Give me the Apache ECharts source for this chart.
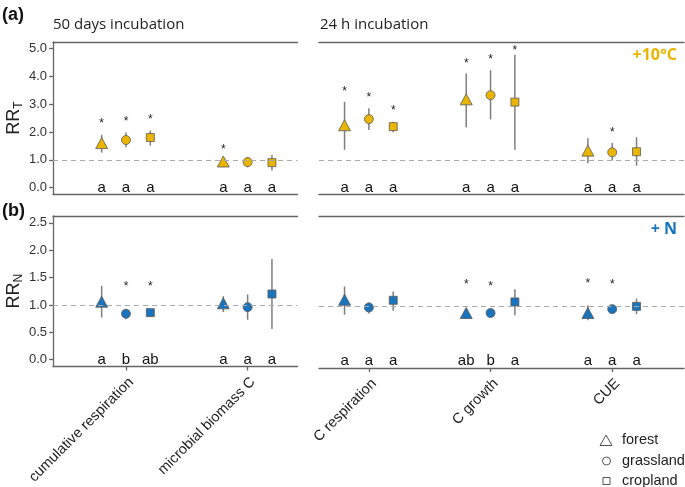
<!DOCTYPE html>
<html><head><meta charset="utf-8">
<script src="https://cdn.jsdelivr.net/npm/echarts@6/dist/echarts.min.js"></script>
<style>html,body{margin:0;padding:0;background:#fff}#c{width:685px;height:487px}</style>
</head><body><div id="c"></div>
<script>
// ---------- data ----------
const categories = ['cumulative respiration', 'microbial biomass C', 'C respiration', 'C growth', 'CUE'];
const landUses = ['forest', 'grassland', 'cropland'];
const yTicksT = [0, 1, 2, 3, 4, 5];
const yTicksN = [0, 0.5, 1, 1.5, 2, 2.5];

// RR_T (+10°C)
const forestT   = [1.60, 0.94, 2.24, 3.17, 1.33];
const forestTLo = [1.26, 0.85, 1.36, 2.17, 0.88];
const forestTHi = [1.90, 1.03, 3.08, 4.10, 1.77];
const grassT    = [1.71, 0.92, 2.46, 3.32, 1.27];
const grassTLo  = [1.45, 0.73, 2.07, 2.45, 0.98];
const grassTHi  = [1.98, 1.10, 2.85, 4.21, 1.60];
const cropT     = [1.80, 0.90, 2.19, 3.07, 1.29];
const cropTLo   = [1.51, 0.62, 1.99, 1.36, 0.79];
const cropTHi   = [2.05, 1.17, 2.37, 4.77, 1.81];
const forestTStar = [2.40, 1.48, 3.56, 4.57, null];
const grassTStar  = [2.49, null, 3.35, 4.69, 2.07];
const cropTStar   = [2.55, null, 2.86, 5.01, null];
const forestTLetter = ['a', 'a', 'a', 'a', 'a'];
const grassTLetter  = ['a', 'a', 'a', 'a', 'a'];
const cropTLetter   = ['a', 'a', 'a', 'a', 'a'];

// RR_N (+ N)
const forestN   = [1.06, 1.03, 1.11, 0.87, 0.87];
const forestNLo = [0.77, 0.87, 0.84, 0.77, 0.74];
const forestNHi = [1.35, 1.16, 1.35, 0.95, 1.01];
const grassN    = [0.84, 0.96, 0.97, 0.87, 0.94];
const grassNLo  = [0.74, 0.73, 0.86, 0.82, 0.86];
const grassNHi  = [0.92, 1.19, 1.06, 0.92, 1.00];
const cropN     = [0.86, 1.20, 1.10, 1.07, 0.99];
const cropNLo   = [0.81, 0.56, 0.91, 0.83, 0.85];
const cropNHi   = [0.91, 1.84, 1.26, 1.30, 1.13];
const forestNStar = [null, null, null, 1.44, 1.46];
const grassNStar  = [1.38, null, null, 1.40, 1.44];
const cropNStar   = [1.38, null, null, null, null];
const forestNLetter = ['a', 'a', 'a', 'ab', 'a'];
const grassNLetter  = ['b', 'a', 'a', 'b', 'a'];
const cropNLetter   = ['ab', 'a', 'a', 'a', 'a'];

// ---------- styling ----------
const gold = '#E9B500', blue = '#1A74BB';
const axisColor = '#666';
const offsets = [-0.2, 0, 0.2];
const symbols = ['triangle', 'circle', 'rect'];
const symbolSizes = [[12, 11], 9, 8];
const sideCats = [[0, 1], [2, 3, 4]];

const panels = [
  { vals: [forestT, grassT, cropT], lo: [forestTLo, grassTLo, cropTLo], hi: [forestTHi, grassTHi, cropTHi],
    stars: [forestTStar, grassTStar, cropTStar], letters: [forestTLetter, grassTLetter, cropTLetter],
    color: gold, min: -0.225, max: 5.225, ticks: yTicksT, name: '{a|RR}{b|T}' },
  { vals: [forestN, grassN, cropN], lo: [forestNLo, grassNLo, cropNLo], hi: [forestNHi, grassNHi, cropNHi],
    stars: [forestNStar, grassNStar, cropNStar], letters: [forestNLetter, grassNLetter, cropNLetter],
    color: blue, min: -0.125, max: 2.625, ticks: yTicksN, name: '{a|RR}{b|N}' }
];

const grids = [
  { left: 53, top: 42, width: 244.5, height: 152 },
  { left: 319, top: 42, width: 365, height: 152 },
  { left: 53, top: 216, width: 244.5, height: 152 },
  { left: 319, top: 216, width: 365, height: 152 }
];

const xAxes = [], yAxes = [], series = [];
for (let g = 0; g < 4; g++) {
  const p = Math.floor(g / 2), s = g % 2;
  const xmin = s === 0 ? 0.4 : 2.59, xmax = s === 0 ? 2.41 : 5.59;
  const tickVals = sideCats[s].map(i => i + 1);
  const isBottom = p === 1;
  xAxes.push({
    type: 'value', gridIndex: g, position: 'bottom', min: xmin, max: xmax,
    splitLine: { show: false },
    axisLine: { show: true, onZero: false, lineStyle: { color: axisColor, width: 1.3 } },
    axisTick: { show: isBottom, customValues: tickVals, length: 4, lineStyle: { color: axisColor, width: 1.3 } },
    axisLabel: { show: isBottom, customValues: tickVals, rotate: 45, margin: 8, verticalAlign: 'top', align: 'right',
      formatter: v => categories[Math.round(v) - 1], fontSize: 14.5, color: '#222', fontFamily: 'Liberation Sans' }
  });
}
for (let g = 0; g < 4; g++) {
  const s = g % 2;
  xAxes.push({
    type: 'value', gridIndex: g, position: 'top', min: s === 0 ? 0.4 : 2.59, max: s === 0 ? 2.41 : 5.59,
    splitLine: { show: false }, axisTick: { show: false }, axisLabel: { show: false },
    axisLine: { show: true, onZero: false, lineStyle: { color: axisColor, width: 1.3 } }
  });
}
for (let g = 0; g < 4; g++) {
  const p = Math.floor(g / 2), s = g % 2;
  const P = panels[p];
  yAxes.push({
    type: 'value', gridIndex: g, min: P.min, max: P.max, show: s === 0,
    splitLine: { show: false },
    axisLine: { show: true, onZero: false, lineStyle: { color: axisColor, width: 1.3 } },
    axisTick: { show: true, customValues: P.ticks, length: 4, lineStyle: { color: axisColor, width: 1.3 } },
    axisLabel: { customValues: P.ticks, formatter: v => v.toFixed(1), fontSize: 13, color: '#333',
      fontFamily: 'Liberation Sans', margin: 6 },
    name: s === 0 ? P.name : '', nameLocation: 'middle', nameRotate: 90, nameGap: 30,
    nameTextStyle: { rich: {
      a: { fontSize: 18, fontFamily: 'Liberation Sans', color: '#222' },
      b: { fontSize: 12, fontFamily: 'Liberation Sans', color: '#222', verticalAlign: 'bottom', padding: [0, 0, -2, 0] } } }
  });
}

for (let g = 0; g < 4; g++) {
  const p = Math.floor(g / 2), s = g % 2;
  const P = panels[p];
  const cats = sideCats[s];
  const errData = [];
  const starData = [], starText = [];
  const letData = [], letText = [];
  for (let j = 0; j < 3; j++) {
    cats.forEach(i => {
      const x = i + 1 + offsets[j];
      errData.push([x, P.lo[j][i], P.hi[j][i]]);
      if (P.stars[j][i] != null) { starData.push([x, P.stars[j][i]]); starText.push('*'); }
      letData.push([x, 0]); letText.push(P.letters[j][i]);
    });
  }
  series.push({
    type: 'custom', xAxisIndex: g, yAxisIndex: g, z: 1, silent: true, data: errData,
    encode: { x: 0, y: [1, 2] },
    renderItem: (params, api) => {
      const a = api.coord([api.value(0), api.value(1)]);
      const b = api.coord([api.value(0), api.value(2)]);
      return { type: 'line', shape: { x1: a[0], y1: a[1], x2: b[0], y2: b[1] },
        style: { stroke: '#7f7f7f', lineWidth: 1.5 } };
    }
  });
  for (let j = 0; j < 3; j++) {
    const ser = {
      type: 'scatter', name: landUses[j], xAxisIndex: g, yAxisIndex: g, z: 3,
      symbol: symbols[j], symbolSize: symbolSizes[j],
      itemStyle: { color: P.color, borderColor: '#5a5a5a', borderWidth: 0.8, opacity: 1 },
      data: cats.map(i => [i + 1 + offsets[j], P.vals[j][i]])
    };
    if (j === 0) {
      ser.markLine = { silent: true, symbol: 'none', label: { show: false }, animation: false,
        lineStyle: { color: '#aaaaaa', type: [5, 4], width: 1.1 }, data: [{ yAxis: 1 }] };
    }
    series.push(ser);
  }
  series.push({
    type: 'custom', xAxisIndex: g, yAxisIndex: g, z: 4, silent: true, data: starData,
    renderItem: (params, api) => {
      const c = api.coord([api.value(0), api.value(1)]);
      return { type: 'text', x: c[0], y: c[1] + 3,
        style: { text: starText[params.dataIndex], align: 'center', verticalAlign: 'middle',
          textAlign: 'center', textVerticalAlign: 'middle', font: '12px "Liberation Sans"', fill: '#222' } };
    }
  });
  series.push({
    type: 'custom', xAxisIndex: g, yAxisIndex: g, z: 4, silent: true, data: letData,
    renderItem: (params, api) => {
      const c = api.coord([api.value(0), api.value(1)]);
      return { type: 'text', x: c[0], y: c[1],
        style: { text: letText[params.dataIndex], align: 'center', verticalAlign: 'middle',
          textAlign: 'center', textVerticalAlign: 'middle', font: '15px "Liberation Sans"', fill: '#111' } };
    }
  });
}

const txt = (x, y, text, font, fill, align) => ({
  type: 'text', x, y, style: { text, font, fill, align: align || 'left', verticalAlign: 'middle',
    textAlign: align || 'left', textVerticalAlign: 'middle' } });
const legStroke = { fill: '#fff', stroke: '#555', lineWidth: 1 };

const option = {
  animation: false,
  grid: grids,
  xAxis: xAxes,
  yAxis: yAxes,
  graphic: [
    txt(2, 15, '(a)', 'bold 18px "Liberation Sans"', '#111'),
    txt(2, 211, '(b)', 'bold 18px "Liberation Sans"', '#111'),
    txt(53, 25, '50 days incubation', '15px "Open Sans"', '#222'),
    txt(320, 25, '24 h incubation', '15px "Open Sans"', '#222'),
    txt(677, 55, '+10°C', 'bold 16px "Open Sans"', gold, 'right'),
    txt(677, 229, '+ N', 'bold 16px "Open Sans"', blue, 'right'),
    // legend
    { type: 'polygon', shape: { points: [[600, 445.5], [612, 445.5], [606, 435]] }, style: legStroke },
    { type: 'circle', shape: { cx: 606.5, cy: 461, r: 4 }, style: legStroke },
    { type: 'rect', shape: { x: 603, y: 477.5, width: 7, height: 7 }, style: legStroke },
    txt(622, 440, landUses[0], '14.5px "Liberation Sans"', '#222'),
    txt(622, 461, landUses[1], '14.5px "Liberation Sans"', '#222'),
    txt(622, 481, landUses[2], '14.5px "Liberation Sans"', '#222')
  ],
  series
};
echarts.init(document.getElementById('c')).setOption(option);
</script></body></html>
